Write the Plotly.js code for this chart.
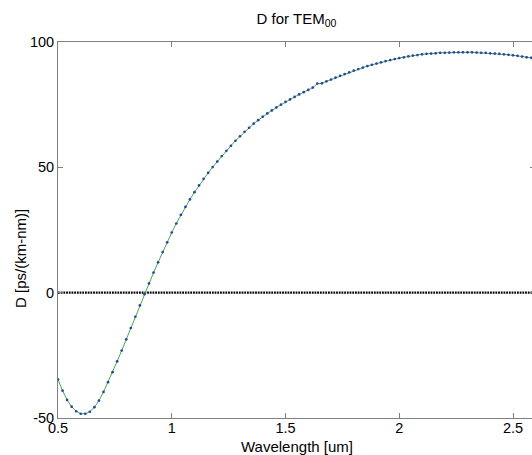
<!DOCTYPE html>
<html><head><meta charset="utf-8">
<script src="https://cdn.plot.ly/plotly-3.0.1.min.js"></script>
<style>
html,body{margin:0;padding:0;overflow:hidden;background:#fff;width:532px;height:455px}
#chart{width:540px;height:455px}
</style>
</head><body><div id="chart"></div>
<script>
const wavelength = [0.50,0.52,0.54,0.56,0.58,0.60,0.62,0.64,0.66,0.68,
  0.70,0.72,0.74,0.76,0.78,0.80,0.82,0.84,0.86,0.88,
  0.90,0.92,0.94,0.96,0.98,1.00,1.02,1.04,1.06,1.08,
  1.10,1.12,1.14,1.16,1.18,1.20,1.22,1.24,1.26,1.28,
  1.30,1.32,1.34,1.36,1.38,1.40,1.42,1.44,1.46,1.48,
  1.50,1.52,1.54,1.56,1.58,1.60,1.62,1.64,1.66,1.68,
  1.70,1.72,1.74,1.76,1.78,1.80,1.82,1.84,1.86,1.88,
  1.90,1.92,1.94,1.96,1.98,2.00,2.02,2.04,2.06,2.08,
  2.10,2.12,2.14,2.16,2.18,2.20,2.22,2.24,2.26,2.28,
  2.30,2.32,2.34,2.36,2.38,2.40,2.42,2.44,2.46,2.48,
  2.50,2.52,2.54,2.56,2.58,2.60];
const dispersion = [-34.6,-39.1,-42.8,-45.5,-47.3,-48.3,-48.3,-47.5,-45.7,-43.1,
  -39.6,-35.7,-31.7,-27.4,-23.1,-18.6,-14.1,-9.6,-5.1,-0.6,
  3.7,8.0,12.1,16.2,20.1,24.0,27.6,31.0,34.2,37.2,
  40.1,42.8,45.4,47.8,50.1,52.3,54.5,56.6,58.6,60.6,
  62.4,64.2,65.8,67.4,68.8,70.2,71.5,72.7,73.9,75.0,
  76.1,77.1,78.1,79.1,80.0,80.9,81.8,83.4,83.5,84.3,
  85.0,85.8,86.5,87.2,87.9,88.6,89.2,89.8,90.4,90.9,
  91.4,91.9,92.4,92.8,93.2,93.6,93.9,94.3,94.6,94.8,
  95.1,95.3,95.4,95.5,95.7,95.7,95.8,95.9,95.9,95.9,
  95.9,95.9,95.8,95.7,95.7,95.5,95.4,95.3,95.1,94.9,
  94.7,94.5,94.2,93.9,93.7,93.3];
const zeroX = [0.5, 2.6];
const zeroY = [0, 0];
const xTicks = [0.5, 1, 1.5, 2, 2.5];
const xTickLabels = ['0.5', '1', '1.5', '2', '2.5'];
const yTicks = [-50, 0, 50, 100];
const yTickLabels = ['-50', '0', '50', '100'];

const FONT = 'Liberation Sans, Arial, Helvetica, sans-serif';
const AXC = '#808080';

const traces = [
  {x: zeroX, y: zeroY, mode: 'lines', line: {color: '#000', width: 2.2, dash: '1.8px,0.9px'}, hoverinfo: 'skip'},
  {x: wavelength, y: dispersion, mode: 'lines', line: {color: '#4aa84a', width: 1}, hoverinfo: 'skip'},
  {x: wavelength, y: dispersion, mode: 'markers', marker: {color: '#2347a6', size: 2.7, line: {width: 0}}, hoverinfo: 'skip'}
];

const layout = {
  width: 540, height: 455,
  margin: {l: 58, r: 5, t: 42, b: 37, pad: 0},
  paper_bgcolor: '#fff', plot_bgcolor: '#fff',
  showlegend: false,
  font: {family: FONT, size: 14, color: '#000'},
  title: {text: 'D for TEM<sub>00</sub>', x: 0.5, xref: 'paper', y: 1 - 19/455, yref: 'container', yanchor: 'middle', xanchor: 'center', font: {family: FONT, size: 15, color: '#000'}},
  xaxis: {
    range: [0.5, 0.5 + 477/227.5], tickmode: 'array', tickvals: xTicks, ticktext: xTickLabels,
    ticks: 'inside', ticklen: 5, tickcolor: AXC, tickwidth: 1, ticklabelstandoff: -3,
    showline: true, linecolor: AXC, linewidth: 1, mirror: 'ticks',
    showgrid: false, zeroline: false, tickfont: {family: FONT, size: 14.5, color: '#000'}
  },
  yaxis: {
    range: [-50, 100], tickmode: 'array', tickvals: yTicks, ticktext: yTickLabels,
    ticks: 'inside', ticklen: 5, tickcolor: AXC, tickwidth: 1,
    showline: true, linecolor: AXC, linewidth: 1, mirror: 'ticks',
    showgrid: false, zeroline: false, tickfont: {family: FONT, size: 14.5, color: '#000'}
  },
  annotations: [
    {text: 'Wavelength [um]', xref: 'paper', yref: 'paper', x: 0.5, y: (418 - 446) / 376, xanchor: 'center', yanchor: 'middle', showarrow: false, font: {family: FONT, size: 15, color: '#000'}},
    {text: 'D [ps/(km-nm)]', xref: 'paper', yref: 'paper', x: (20 - 58) / 477, y: (418 - 259) / 376, xanchor: 'center', yanchor: 'middle', textangle: -90, showarrow: false, font: {family: FONT, size: 15, color: '#000'}}
  ]
};

Plotly.newPlot('chart', traces, layout, {staticPlot: true, displayModeBar: false});
</script>
</body></html>
